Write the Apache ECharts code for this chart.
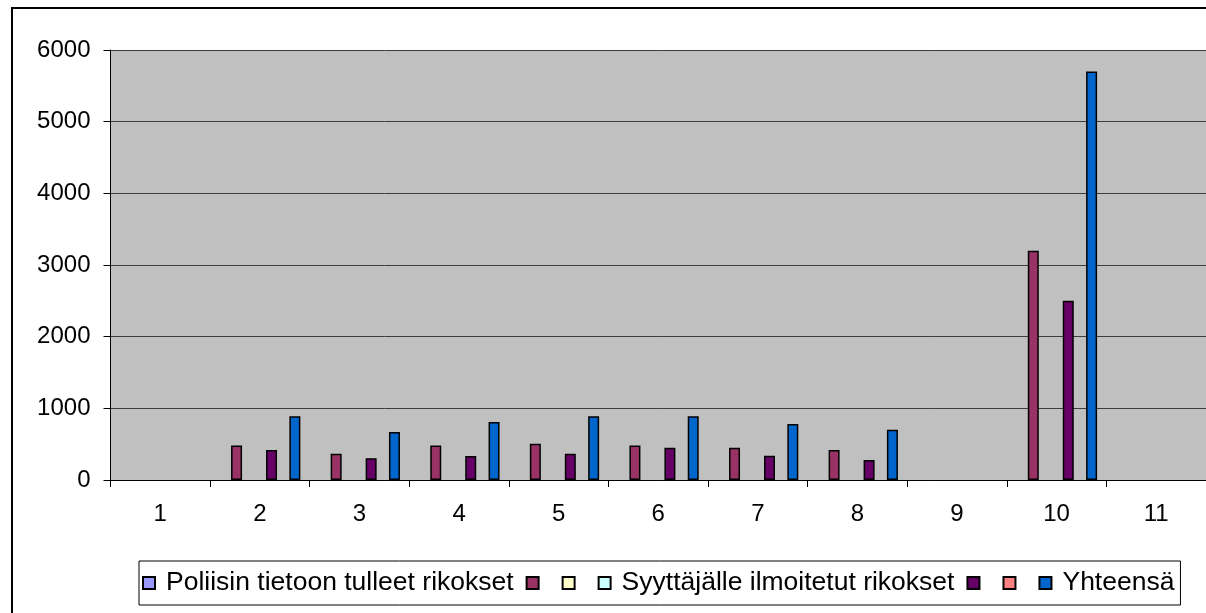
<!DOCTYPE html>
<html>
<head>
<meta charset="utf-8">
<script src="https://cdn.jsdelivr.net/npm/echarts@6/dist/echarts.min.js"></script>
<style>
html,body{margin:0;padding:0;background:#fff;}
#c{width:1206px;height:613px;}
</style>
</head>
<body>
<div id="c"></div>
<script>
const categories = ['1','2','3','4','5','6','7','8','9','10','11'];
const seriesNames = ['Poliisin tietoon tulleet rikokset', '\u200b', '\u200b\u200b', 'Syyttäjälle ilmoitetut rikokset', '\u200b\u200b\u200b', '\u200b\u200b\u200b\u200b', 'Yhteensä'];
const seriesColors = ['#9999FF', '#993366', '#FFFFCC', '#CCFFFF', '#660066', '#FF8080', '#0066CC'];
const poliisin = [null,null,null,null,null,null,null,null,null,null,null];
const maroonVals = [null,480,365,480,505,480,450,420,null,3200,null];
const yellowVals = [null,null,null,null,null,null,null,null,null,null,null];
const syyttajalle = [null,null,null,null,null,null,null,null,null,null,null];
const purpleVals = [null,420,305,335,365,450,340,280,null,2500,null];
const salmonVals = [null,null,null,null,null,null,null,null,null,null,null];
const yhteensa = [null,890,670,810,890,890,780,700,null,5700,null];
const yTicks = [0,1000,2000,3000,4000,5000,6000];

const allData = [poliisin, maroonVals, yellowVals, syyttajalle, purpleVals, salmonVals, yhteensa];
const FONT = 'Arial, "Liberation Sans", sans-serif';

const chart = echarts.init(document.getElementById('c'), null, {renderer:'canvas'});
chart.setOption({
  animation: false,
  backgroundColor: '#fff',
  graphic: [{
    type: 'rect', z: 100, silent: true,
    shape: {x: 12, y: 8, width: 1400, height: 800},
    style: {fill: 'none', stroke: '#000', lineWidth: 2}
  }],
  grid: {left: 110.5, top: 50, width: 1098, height: 430, show: true, backgroundColor: '#C0C0C0', borderWidth: 0},
  legend: {
    left: 139, top: 561, width: 1150,
    padding: [8, 6, 8, 3],
    borderColor: '#000', borderWidth: 1,
    icon: 'rect',
    itemWidth: 12, itemHeight: 12, itemGap: 12,
    selectedMode: false,
    data: seriesNames,
    formatter: function(n){ return n.charAt(0) === '\u200b' ? '' : n; },
    textStyle: {fontFamily: FONT, fontSize: 26.5, color: '#000', lineHeight: 28, padding: [0, 0, 0, 6]}
  },
  xAxis: {
    type: 'category', data: categories,
    axisLine: {show: true, lineStyle: {color: '#000', width: 1}},
    axisTick: {show: true, length: 7, lineStyle: {color: '#000'}},
    axisLabel: {fontFamily: FONT, fontSize: 24, color: '#000', margin: 22, interval: 0},
    splitLine: {show: false}
  },
  yAxis: {
    type: 'value', min: 0, max: 6000, interval: 1000,
    axisLine: {show: true, lineStyle: {color: '#000', width: 1}},
    axisTick: {show: true, length: 7, lineStyle: {color: '#000'}},
    axisLabel: {fontFamily: FONT, fontSize: 24, color: '#000', margin: 20,
      formatter: function(v){ return yTicks.indexOf(v) >= 0 ? String(v) : ''; }},
    splitLine: {show: true, lineStyle: {color: '#3c3c3c', width: 1}}
  },
  series: seriesNames.map(function(name, i){
    return {
      name: name, type: 'bar', data: allData[i],
      barWidth: 11, barGap: '6%',
      itemStyle: {color: seriesColors[i], borderColor: '#000', borderWidth: 1.5},
      emphasis: {disabled: true}
    };
  })
});
</script>
</body>
</html>
